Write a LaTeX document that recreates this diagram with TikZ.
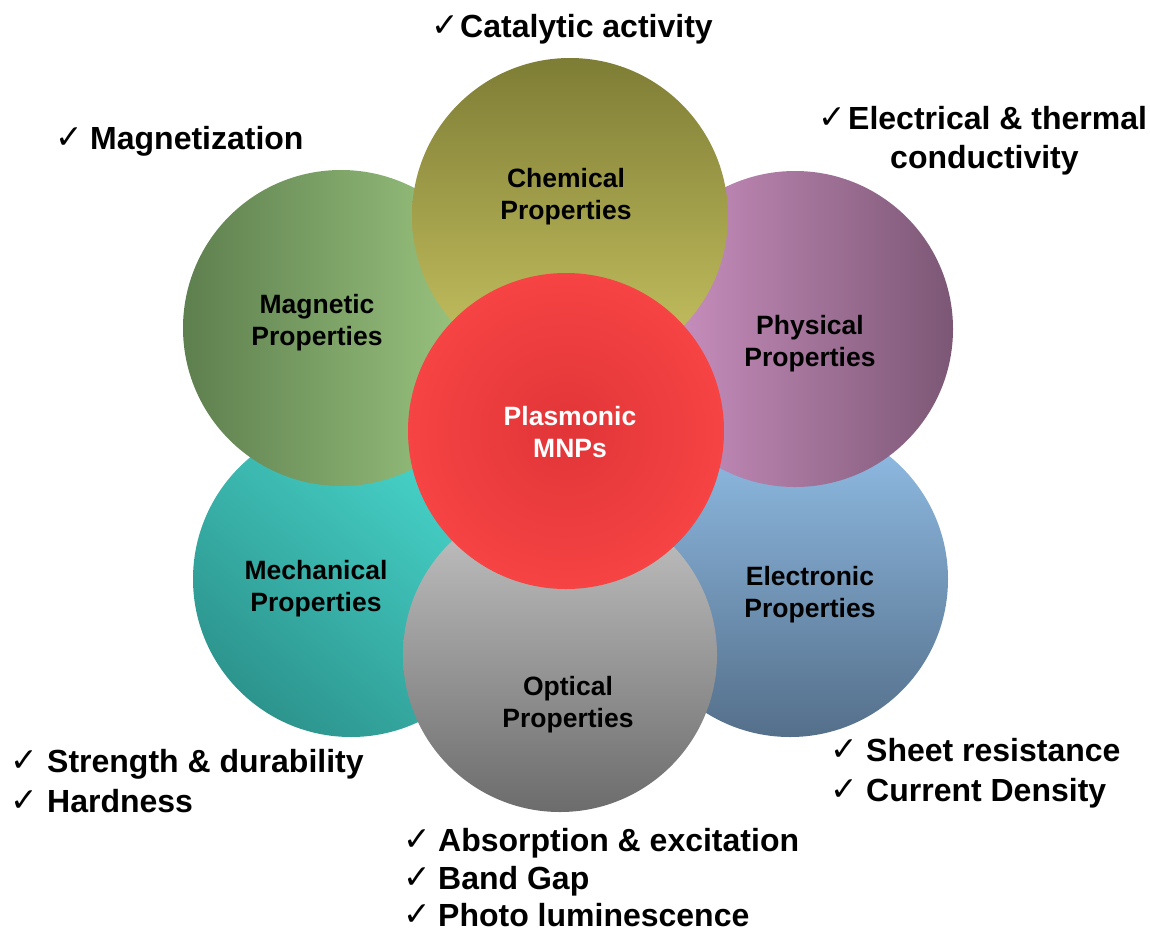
\documentclass[tikz,border=0pt]{standalone}
\usepackage{fontspec}
\setmainfont{Liberation Sans}
\newfontfamily\chkfont{DejaVu Sans}
\definecolor{chemTop}{HTML}{7E7D35}
\definecolor{chemBot}{HTML}{C9C462}
\definecolor{magL}{HTML}{5E7F4E}
\definecolor{magR}{HTML}{A0CB84}
\definecolor{phyL}{HTML}{D195C6}
\definecolor{phyR}{HTML}{7C5775}
\definecolor{mecLight}{HTML}{48D6CC}
\definecolor{mecDark}{HTML}{2C948D}
\definecolor{eleTop}{HTML}{93C0E9}
\definecolor{eleBot}{HTML}{546F8A}
\definecolor{optTop}{HTML}{C6C6C6}
\definecolor{optBot}{HTML}{6C6C6C}
\definecolor{redIn}{HTML}{E13538}
\definecolor{redOut}{HTML}{F64343}
\begin{document}
\begin{tikzpicture}[x=1pt,y=-1pt,
  disc/.style={circle, draw=none, minimum size=316pt, inner sep=0pt},
  lbl/.style={font=\bfseries\fontsize{26.5}{32}\selectfont, align=center, inner sep=0pt},
  item/.style={font=\bfseries\fontsize{32}{38}\selectfont, anchor=base west, inner sep=0pt},
  tick/.style={font=\chkfont\fontsize{33}{33}\selectfont, anchor=base west, inner sep=0pt}]
\useasboundingbox (0,0) rectangle (1150,932);
% circles, back to front
\node[disc, shading=axis, top color=mecLight, bottom color=mecDark, shading angle=-40] (mecC) at (351,579) {};
\node[disc, top color=eleTop, bottom color=eleBot] (eleC) at (790,579) {};
\node[disc, left color=magL, right color=magR] (magC) at (341,328) {};
\node[disc, left color=phyL, right color=phyR] (phyC) at (795,329) {};
\node[disc, top color=chemTop, bottom color=chemBot] (chemC) at (570,216) {};
\node[disc, minimum size=314pt, top color=optTop, bottom color=optBot] (optC) at (560,655) {};
\node[disc, inner color=redIn, outer color=redOut] (cenC) at (566,431) {};
% circle labels
\node[lbl] (chemL) at (566,197) {Chemical\\Properties};
\node[lbl] (magL) at (317,323) {Magnetic\\Properties};
\node[lbl] (phyL) at (810,344) {Physical\\Properties};
\node[lbl] (mecL) at (316,589) {Mechanical\\Properties};
\node[lbl] (eleL) at (810,595) {Electronic\\Properties};
\node[lbl] (optL) at (568,705) {Optical\\Properties};
\node[lbl, text=white] (cenL) at (570,432) {Plasmonic\\MNPs};
% property lists
\node[tick] (t1) at (431,36) {✓};
\node[item] (i1) at (460,37) {Catalytic activity};
\node[tick] (t2) at (55,148) {✓};
\node[item] (i2) at (90,149) {Magnetization};
\node[tick] (t3) at (818,128) {✓};
\node[item] (i3) at (848,129) {Electrical \& thermal};
\node[item] (i3b) at (890,168) {conductivity};
\node[tick] (t4) at (10,771) {✓};
\node[item] (i4) at (47,772) {Strength \& durability};
\node[tick] (t5) at (10,811) {✓};
\node[item] (i5) at (47,812) {Hardness};
\node[tick] (t6) at (830,760) {✓};
\node[item] (i6) at (866,761) {Sheet resistance};
\node[tick] (t7) at (830,800) {✓};
\node[item] (i7) at (866,801) {Current Density};
\node[tick] (t8) at (403,850) {✓};
\node[item] (i8) at (438,851) {Absorption \& excitation};
\node[tick] (t9) at (403,888) {✓};
\node[item] (i9) at (438,889) {Band Gap};
\node[tick] (t10) at (403,925) {✓};
\node[item] (i10) at (438,926) {Photo luminescence};
\end{tikzpicture}
\end{document}
